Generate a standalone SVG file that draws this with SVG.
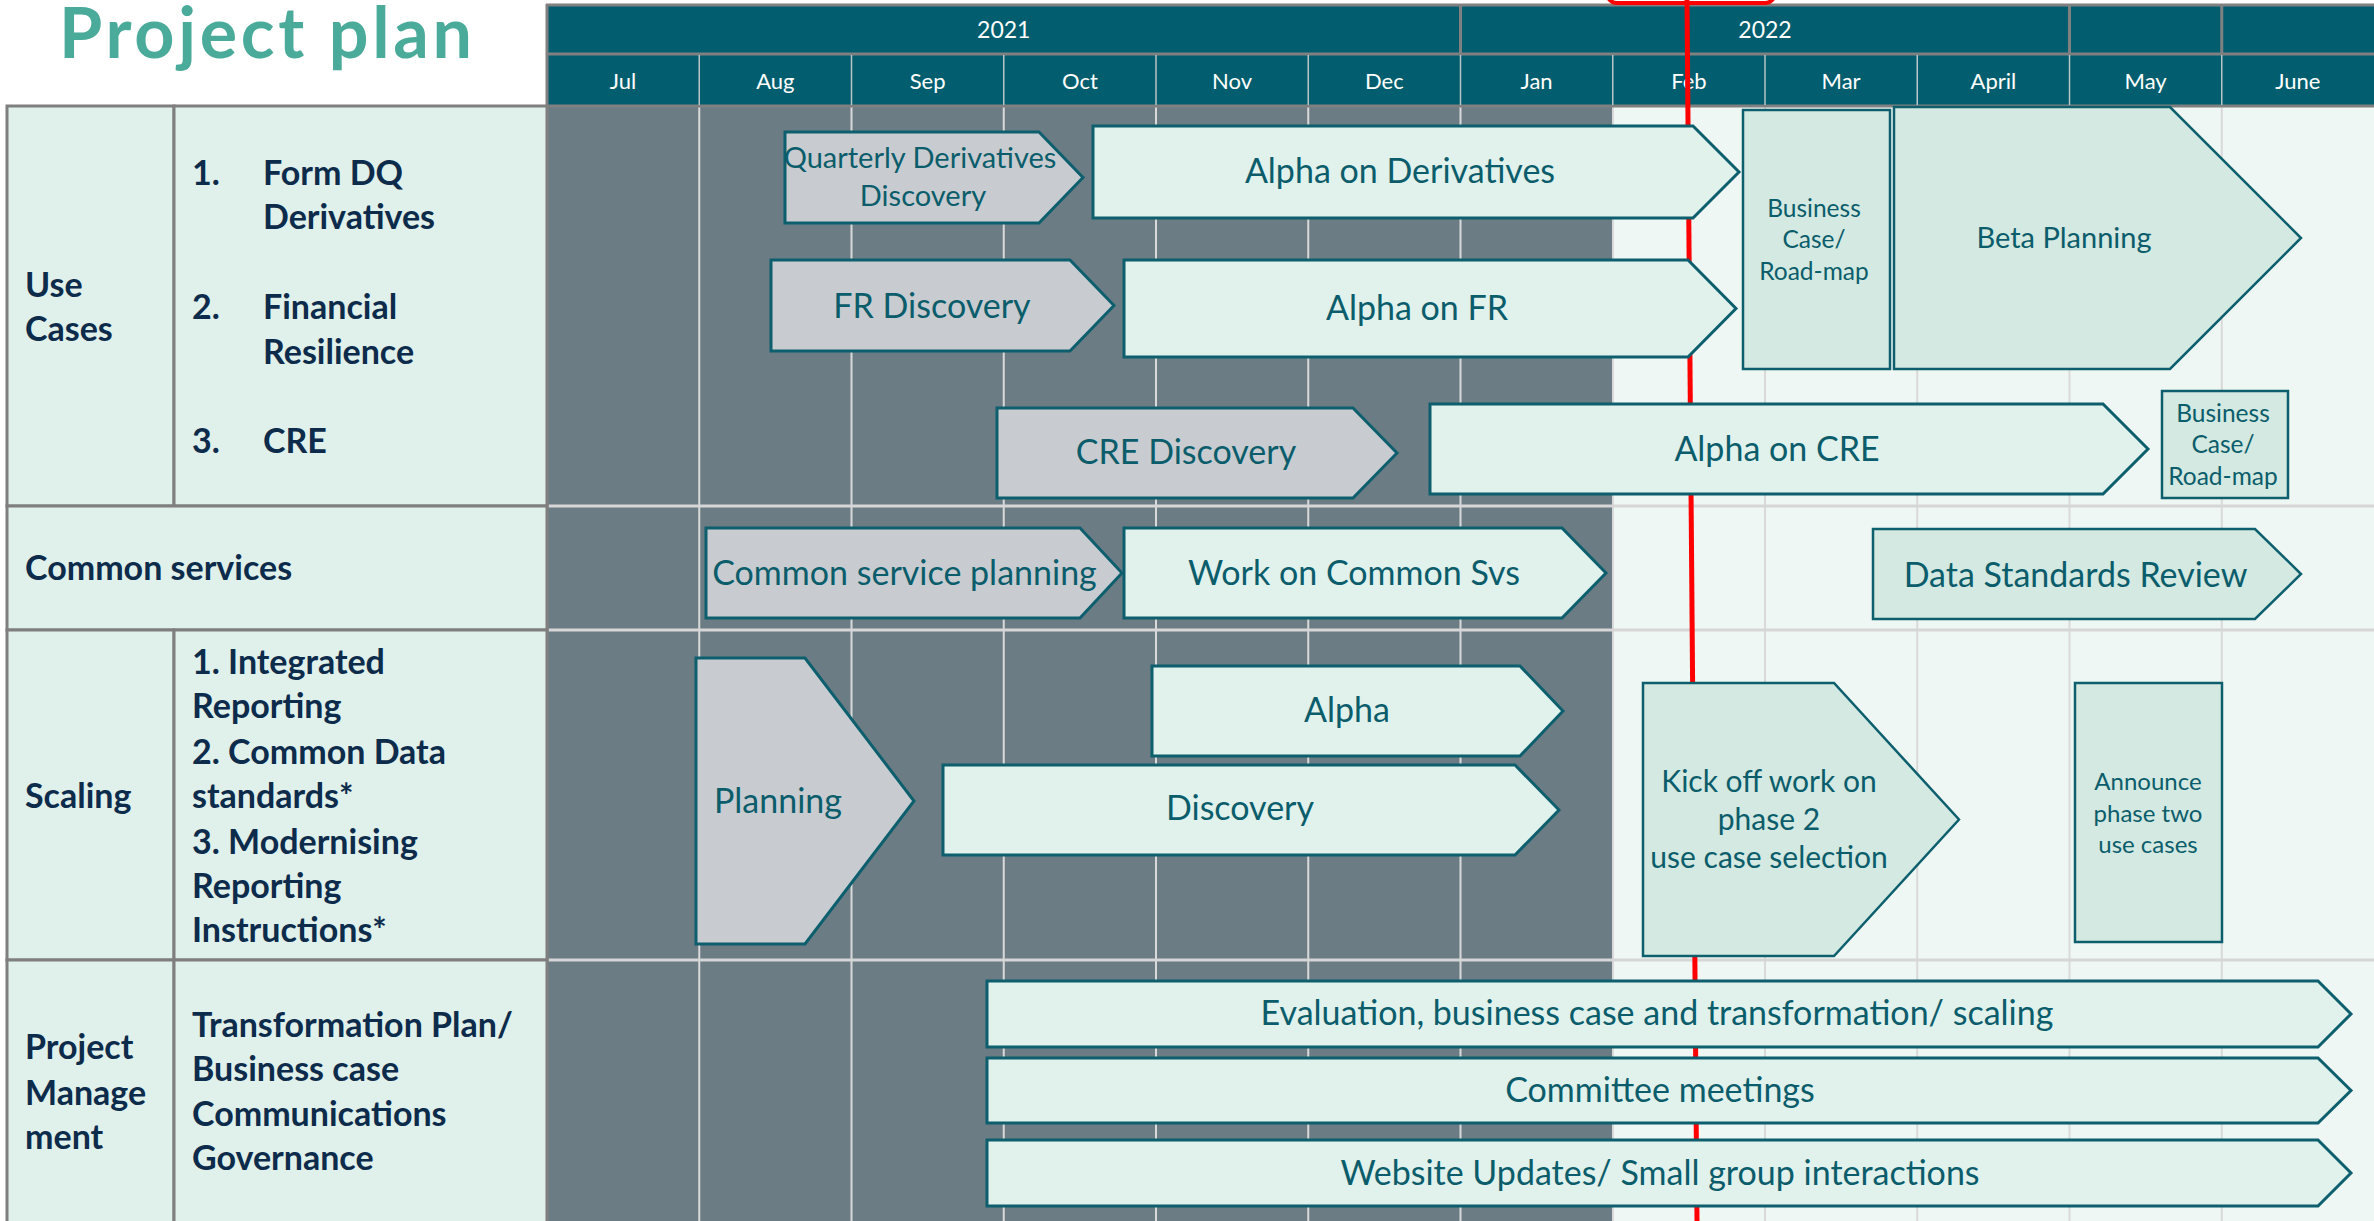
<svg xmlns="http://www.w3.org/2000/svg" width="2374" height="1221" viewBox="0 0 2374 1221">
<style>
text { font-family: Lato, "Open Sans", "Liberation Sans", sans-serif; }
.title { font-size: 70px; font-weight: 700; fill: #4aab9b; }
.yr { font-size: 23px; fill: #ffffff; text-anchor: middle; }
.mo { font-size: 22px; fill: #ffffff; text-anchor: middle; }
.lbl { font-size: 34px; font-weight: 700; fill: #0d2b4a; }
.cell { fill: #e0f0ea; stroke: #7f7f7f; stroke-width: 3; }
.g { fill: #c8ccd0; stroke: #0d5f6e; stroke-width: 3; }
.m { fill: #e1f1ec; stroke: #0d5f6e; stroke-width: 3; }
.l { fill: #d3e9e1; stroke: #0d5f6e; stroke-width: 2.5; }
.t { font-size: 34px; fill: #0b5d6b; text-anchor: middle; }
.ts { font-size: 29px; fill: #0b5d6b; text-anchor: middle; }
.tk { font-size: 30px; fill: #0b5d6b; text-anchor: middle; }
.tx { font-size: 24.5px; fill: #0b5d6b; text-anchor: middle; }
.ta { font-size: 24px; fill: #0b5d6b; text-anchor: middle; }
.grid { stroke: #d9d9d9; stroke-width: 2; }
.row { stroke: #d6d6d6; stroke-width: 3; }
.hsep { stroke: #808080; stroke-width: 3; }
.msep { stroke: #b9c4c8; stroke-width: 1.5; }
</style>

<!-- title -->
<text class="title" x="59" y="58" textLength="413" lengthAdjust="spacing">Project plan</text>

<!-- chart background -->
<g id="chart-bg">
  <rect x="547" y="106" width="1066" height="1115" fill="#6b7c85"/>
  <rect x="1613" y="106" width="761" height="1115" fill="#eef7f4"/>
  <line class="grid" x1="699.25" y1="106" x2="699.25" y2="1221"/>
  <line class="grid" x1="851.5" y1="106" x2="851.5" y2="1221"/>
  <line class="grid" x1="1003.75" y1="106" x2="1003.75" y2="1221"/>
  <line class="grid" x1="1156" y1="106" x2="1156" y2="1221"/>
  <line class="grid" x1="1308.25" y1="106" x2="1308.25" y2="1221"/>
  <line class="grid" x1="1460.5" y1="106" x2="1460.5" y2="1221"/>
  <line class="grid" x1="1613" y1="106" x2="1613" y2="1221"/>
  <line class="grid" x1="1765" y1="106" x2="1765" y2="1221" stroke-width="2.5"/>
  <line class="grid" x1="1917.25" y1="106" x2="1917.25" y2="1221" stroke-width="2.5"/>
  <line class="grid" x1="2069.5" y1="106" x2="2069.5" y2="1221" stroke-width="2.5"/>
  <line class="grid" x1="2221.75" y1="106" x2="2221.75" y2="1221" stroke-width="2.5"/>
  <line class="row" x1="547" y1="506" x2="2374" y2="506"/>
  <line class="row" x1="547" y1="630" x2="2374" y2="630"/>
  <line class="row" x1="547" y1="960" x2="2374" y2="960"/>
</g>

<!-- header -->
<g id="header">
  <rect x="547" y="5" width="1827" height="101" fill="#025e6e"/>
  <line class="hsep" x1="546" y1="5" x2="2374" y2="5"/>
  <line class="hsep" x1="547" y1="54" x2="2374" y2="54"/>
  <line class="hsep" x1="547" y1="106" x2="2374" y2="106"/>
  <line class="hsep" x1="547" y1="4" x2="547" y2="1221"/>
  <line class="hsep" x1="1460.5" y1="5" x2="1460.5" y2="54"/>
  <line class="hsep" x1="2069.5" y1="5" x2="2069.5" y2="54"/>
  <line class="hsep" x1="2221.75" y1="5" x2="2221.75" y2="54"/>
  <line class="msep" x1="699.25" y1="55" x2="699.25" y2="105"/>
  <line class="msep" x1="851.5" y1="55" x2="851.5" y2="105"/>
  <line class="msep" x1="1003.75" y1="55" x2="1003.75" y2="105"/>
  <line class="msep" x1="1156" y1="55" x2="1156" y2="105"/>
  <line class="msep" x1="1308.25" y1="55" x2="1308.25" y2="105"/>
  <line class="msep" x1="1460.5" y1="55" x2="1460.5" y2="105"/>
  <line class="msep" x1="1612.75" y1="55" x2="1612.75" y2="105"/>
  <line class="msep" x1="1765" y1="55" x2="1765" y2="105"/>
  <line class="msep" x1="1917.25" y1="55" x2="1917.25" y2="105"/>
  <line class="msep" x1="2069.5" y1="55" x2="2069.5" y2="105"/>
  <line class="msep" x1="2221.75" y1="55" x2="2221.75" y2="105"/>
  <text class="yr" x="1003.75" y="38">2021</text>
  <text class="yr" x="1765" y="38">2022</text>
  <text class="mo" x="623.1" y="89">Jul</text>
  <text class="mo" x="775.4" y="89">Aug</text>
  <text class="mo" x="927.6" y="89">Sep</text>
  <text class="mo" x="1079.9" y="89">Oct</text>
  <text class="mo" x="1232.1" y="89">Nov</text>
  <text class="mo" x="1384.4" y="89">Dec</text>
  <text class="mo" x="1536.6" y="89">Jan</text>
  <text class="mo" x="1688.9" y="89">Feb</text>
  <text class="mo" x="1841.1" y="89">Mar</text>
  <text class="mo" x="1993.4" y="89">April</text>
  <text class="mo" x="2145.6" y="89">May</text>
  <text class="mo" x="2297.9" y="89">June</text>
</g>

<!-- left table -->
<g id="row-use-cases">
  <rect class="cell" x="7" y="106" width="167" height="400"/>
  <rect class="cell" x="174" y="106" width="373" height="400"/>
  <text class="lbl" x="25" y="297">Use</text>
  <text class="lbl" x="25" y="341">Cases</text>
  <text class="lbl" x="192" y="184.5">1.</text>
  <text class="lbl" x="263" y="184.5">Form DQ</text>
  <text class="lbl" x="263" y="229">Derivatives</text>
  <text class="lbl" x="192" y="319">2.</text>
  <text class="lbl" x="263" y="319">Financial</text>
  <text class="lbl" x="263" y="364">Resilience</text>
  <text class="lbl" x="192" y="453">3.</text>
  <text class="lbl" x="263" y="453">CRE</text>
</g>
<g id="row-common-services">
  <rect class="cell" x="7" y="506" width="540" height="124"/>
  <text class="lbl" x="25" y="580">Common services</text>
</g>
<g id="row-scaling">
  <rect class="cell" x="7" y="630" width="167" height="330"/>
  <rect class="cell" x="174" y="630" width="373" height="330"/>
  <text class="lbl" x="25" y="808">Scaling</text>
  <text class="lbl" x="192" y="674">1. Integrated</text>
  <text class="lbl" x="192" y="718">Reporting</text>
  <text class="lbl" x="192" y="764">2. Common Data</text>
  <text class="lbl" x="192" y="808">standards*</text>
  <text class="lbl" x="192" y="854">3. Modernising</text>
  <text class="lbl" x="192" y="898">Reporting</text>
  <text class="lbl" x="192" y="942">Instructions*</text>
</g>
<g id="row-project-management">
  <rect class="cell" x="7" y="960" width="167" height="270"/>
  <rect class="cell" x="174" y="960" width="373" height="270"/>
  <text class="lbl" x="25" y="1059">Project</text>
  <text class="lbl" x="25" y="1105">Manage</text>
  <text class="lbl" x="25" y="1149">ment</text>
  <text class="lbl" x="192" y="1037">Transformation Plan/</text>
  <text class="lbl" x="192" y="1081">Business case</text>
  <text class="lbl" x="192" y="1126">Communications</text>
  <text class="lbl" x="192" y="1170">Governance</text>
</g>

<!-- today marker -->
<g id="today-marker">
  <rect x="1607" y="-40" width="168" height="43" rx="10" fill="#ffffff" stroke="#ff0000" stroke-width="4"/>
  <line x1="1687" y1="0" x2="1697" y2="1221" stroke="#ff0000" stroke-width="5"/>
</g>

<!-- connectors: none in this diagram -->
<g id="connectors"/>

<!-- nodes -->
<g id="node-quarterly-derivatives-discovery">
  <polygon class="g" points="785,132 1039,132 1083,177.5 1039,223 785,223"/>
  <text class="ts" x="920" y="168">Quarterly Derivatives</text>
  <text class="ts" x="923" y="206">Discovery</text>
</g>
<g id="node-fr-discovery">
  <polygon class="g" points="771,260 1070,260 1114,305.5 1070,351 771,351"/>
  <text class="t" x="932" y="318">FR Discovery</text>
</g>
<g id="node-cre-discovery">
  <polygon class="g" points="997,408 1353,408 1397,453 1353,498 997,498"/>
  <text class="t" x="1186" y="464">CRE Discovery</text>
</g>
<g id="node-common-service-planning">
  <polygon class="g" points="706,528 1080,528 1122,573 1080,618 706,618"/>
  <text class="t" x="904.5" y="585">Common service planning</text>
</g>
<g id="node-planning">
  <polygon class="g" points="696,658 805,658 914,801 805,944 696,944"/>
  <text class="t" x="778" y="813">Planning</text>
</g>
<g id="node-alpha-derivatives">
  <polygon class="m" points="1093,126 1693,126 1739,172 1693,218 1093,218"/>
  <text class="t" x="1400" y="183">Alpha on Derivatives</text>
</g>
<g id="node-alpha-fr">
  <polygon class="m" points="1124,260 1688,260 1736,308.5 1688,357 1124,357"/>
  <text class="t" x="1417" y="320">Alpha on FR</text>
</g>
<g id="node-alpha-cre">
  <polygon class="m" points="1430,404 2103,404 2148,449 2103,494 1430,494"/>
  <text class="t" x="1777" y="461">Alpha on CRE</text>
</g>
<g id="node-work-common-svs">
  <polygon class="m" points="1124,528 1562,528 1606,573 1562,618 1124,618"/>
  <text class="t" x="1354" y="585">Work on Common Svs</text>
</g>
<g id="node-alpha">
  <polygon class="m" points="1152,666 1520,666 1563,711 1520,756 1152,756"/>
  <text class="t" x="1347" y="722">Alpha</text>
</g>
<g id="node-discovery">
  <polygon class="m" points="943,765 1515,765 1559,810 1515,855 943,855"/>
  <text class="t" x="1240" y="820">Discovery</text>
</g>
<g id="node-evaluation">
  <polygon class="m" points="987,981 2318,981 2351,1014 2318,1047 987,1047"/>
  <text class="t" x="1657" y="1025">Evaluation, business case and transformation/ scaling</text>
</g>
<g id="node-committee">
  <polygon class="m" points="987,1058 2318,1058 2351,1090.5 2318,1123 987,1123"/>
  <text class="t" x="1660" y="1102">Committee meetings</text>
</g>
<g id="node-website">
  <polygon class="m" points="987,1140 2318,1140 2351,1173 2318,1206 987,1206"/>
  <text class="t" x="1660" y="1185">Website Updates/ Small group interactions</text>
</g>
<g id="node-business-case-1">
  <rect class="l" x="1743" y="110" width="147" height="259"/>
  <text class="tx" x="1814" y="217">Business</text>
  <text class="tx" x="1814" y="248">Case/</text>
  <text class="tx" x="1814" y="280">Road-map</text>
</g>
<g id="node-beta-planning">
  <polygon class="l" points="1894,107 2170,107 2301,238 2170,369 1894,369"/>
  <text class="ts" x="2064" y="248">Beta Planning</text>
</g>
<g id="node-business-case-2">
  <rect class="l" x="2162" y="391" width="126" height="107"/>
  <text class="tx" x="2223" y="422">Business</text>
  <text class="tx" x="2223" y="453">Case/</text>
  <text class="tx" x="2223" y="485">Road-map</text>
</g>
<g id="node-data-standards-review">
  <polygon class="l" points="1873,529 2255,529 2301,574 2255,619 1873,619"/>
  <text class="t" x="2075.5" y="587">Data Standards Review</text>
</g>
<g id="node-kick-off">
  <polygon class="l" points="1643,683 1834,683 1959,819.5 1834,956 1643,956"/>
  <text class="tk" x="1769" y="792">Kick off work on</text>
  <text class="tk" x="1769" y="830">phase 2</text>
  <text class="tk" x="1769" y="868">use case selection</text>
</g>
<g id="node-announce">
  <rect class="l" x="2075" y="683" width="147" height="259"/>
  <text class="ta" x="2148" y="790">Announce</text>
  <text class="ta" x="2148" y="822">phase two</text>
  <text class="ta" x="2148" y="853">use cases</text>
</g>
</svg>
